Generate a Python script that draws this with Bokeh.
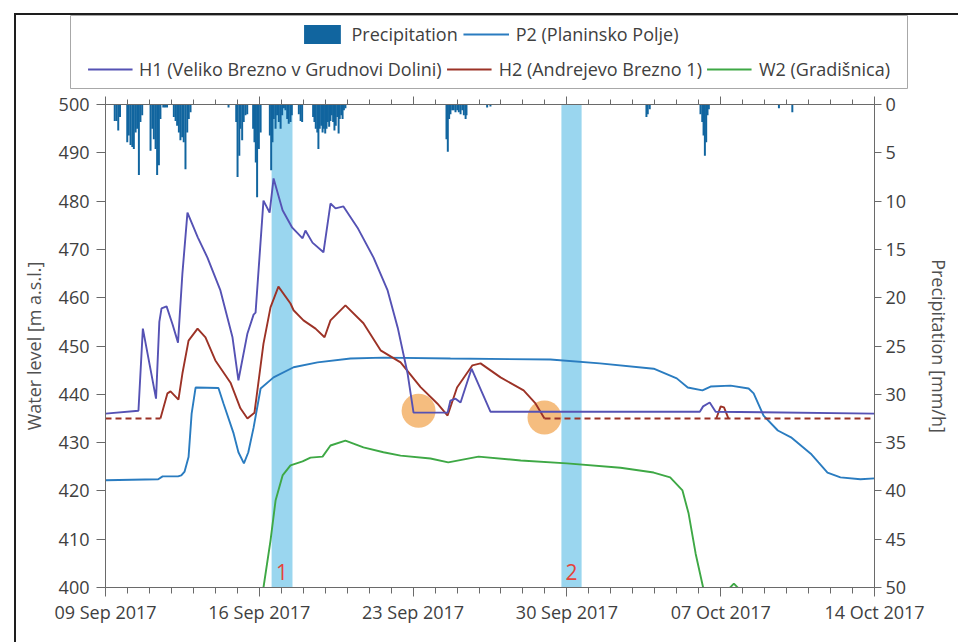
import math
import pandas as pd
from bokeh.plotting import figure
from bokeh.models import (Range1d, LinearAxis, DatetimeAxis, FixedTicker, DatetimeTickFormatter,
                          Legend, LegendItem, BoxAnnotation, Label, Div, CustomJSTickFormatter)
from bokeh.embed import file_html
from bokeh.resources import INLINE

NAN = float("nan")

# ---------------- data (days since 09 Sep 2017 00:00) ----------------
start_date = "2017-09-09"
end_date = "2017-10-14"
tick_dates = ["2017-09-09", "2017-09-16", "2017-09-23", "2017-09-30", "2017-10-07", "2017-10-14"]
level_ticks = [400, 410, 420, 430, 440, 450, 460, 470, 480, 490, 500]
precip_ticks = [0, 5, 10, 15, 20, 25, 30, 35, 40, 45, 50]

pr_day = [0.42, 0.50, 0.58, 0.66,
          0.99, 1.06, 1.14, 1.22, 1.29, 1.37, 1.44, 1.52, 1.59, 1.67,
          2.05, 2.13, 2.20, 2.28, 2.35, 2.43, 2.50, 2.63, 2.71, 2.80,
          3.11, 3.19, 3.26, 3.34, 3.41, 3.49, 3.56, 3.64, 3.72, 3.79, 3.87,
          5.60,
          5.95, 6.01, 6.09, 6.14, 6.22, 6.29, 6.37, 6.45,
          6.72, 6.78, 6.84, 6.90, 6.98, 7.06,
          7.48, 7.54, 7.60, 7.66, 7.74, 7.81, 7.89, 7.97, 8.04, 8.12, 8.19, 8.27, 8.34, 8.42, 8.48,
          8.80, 8.88, 8.95,
          9.45, 9.51, 9.57, 9.64, 9.69, 9.75, 9.82, 9.88, 9.94, 10.00, 10.06, 10.12, 10.18, 10.24,
          10.30, 10.36, 10.42, 10.48, 10.55, 10.61, 10.66, 10.73, 10.79, 10.85, 10.92,
          15.52, 15.58, 15.64, 15.70, 15.78, 15.85, 15.93, 16.01, 16.08, 16.16, 16.24, 16.31, 16.39, 16.43,
          17.37, 17.52,
          24.62, 24.68, 24.77,
          27.08, 27.16, 27.22, 27.28, 27.34, 27.40, 27.46,
          30.65, 31.26]
pr_mm = [1.7, 1.7, 2.7, 1.3,
         3.9, 3.2, 4.2, 4.4, 4.6, 2.9, 2.5, 7.3, 1.8, 1.1,
         4.8, 2.5, 3.6, 4.6, 7.3, 6.3, 1.5, 0.3, 0.3, 0.3,
         1.3, 1.7, 2.2, 2.9, 3.7, 3.4, 3.9, 6.7, 2.9, 1.5, 0.8,
         0.3,
         1.8, 7.5, 5.3, 2.5, 3.7, 1.8, 1.1, 1.0,
         2.5, 3.9, 6.0, 9.6, 4.6, 2.9,
         3.2, 6.8, 3.9, 1.5, 2.5, 1.1, 1.8, 2.5, 1.1, 0.4, 0.6, 1.5, 2.0, 1.8, 1.1,
         1.0, 1.7, 1.8,
         1.3, 1.8, 2.5, 2.9, 4.6, 2.5, 2.2, 2.9, 2.5, 3.0, 2.5, 1.8, 2.3, 1.7,
         1.1, 1.8, 2.7, 2.2, 1.3, 3.0, 1.5, 1.1, 1.5, 0.6, 0.4,
         3.6, 4.9, 1.5, 1.0, 0.6, 0.6, 0.8, 0.6, 0.8, 1.0, 0.6, 1.1, 1.5, 1.1,
         0.3, 0.2,
         1.3, 1.0, 0.5,
         1.0, 1.8, 3.2, 5.3, 3.9, 1.1, 0.5,
         0.4, 0.8]

p2_day = [0, 2.4, 2.6, 3.3, 3.45, 3.6, 3.78, 3.92, 4.1, 5.14, 5.37, 5.83, 6.05, 6.3, 6.5, 6.74,
          7.06, 7.65, 8.56, 9.65, 11.15, 12.65, 15.7, 20.25, 22.5, 24.95, 26.0, 26.5, 27.17,
          27.54, 28.45, 29.27, 29.5, 29.95, 30.6, 31.2, 32.1, 32.45, 32.86, 33.45, 34.36, 35]
p2_val = [422.2, 422.4, 423.0, 423.0, 423.2, 424.0, 427.0, 436.0, 441.4, 441.3, 438.1, 431.9,
          428.0, 425.7, 428.0, 433.1, 441.2, 443.5, 445.6, 446.6, 447.4, 447.6, 447.4, 447.2,
          446.4, 445.3, 443.3, 441.4, 440.8, 441.6, 441.8, 441.2, 440.2, 435.6, 432.5, 431.1,
          427.7, 425.9, 423.8, 422.8, 422.4, 422.6]

h1_day = [0, 1.5, 1.7, 2.3, 2.45, 2.55, 2.78, 3.05, 3.3, 3.5, 3.73, 4.2, 4.64, 5.23, 5.78, 6.05,
          6.46, 6.74, 6.83, 7.19, 7.47, 7.65, 8.06, 8.5, 8.97, 9.1, 9.42, 9.92, 10.24, 10.47,
          10.83, 11.47, 12.2, 12.84, 13.3, 13.75, 14.02, 15.57, 15.7, 15.93, 16.16, 16.66,
          17.52, 27.05, 27.2, 27.5, 27.77, 35]
h1_val = [436.0, 436.6, 453.6, 439.1, 455.0, 457.8, 458.2, 454.5, 450.7, 465.0, 477.6, 472.5,
          468.3, 461.5, 451.8, 442.9, 452.6, 456.5, 456.9, 480.1, 477.6, 484.7, 478.1, 474.5,
          472.3, 473.9, 471.4, 469.4, 479.5, 478.5, 478.9, 474.5, 468.3, 461.5, 453.8, 444.3,
          436.2, 436.2, 438.7, 439.1, 438.3, 445.3, 436.4, 436.4, 437.5, 438.3, 436.4, 436.0]

h2_day = [2.5, 2.82, 2.96, 3.32, 3.5, 3.78, 4.19, 4.55, 5.0, 5.69, 6.14, 6.46, 6.78, 7.19, 7.51,
          7.87, 8.42, 8.56, 9.01, 9.56, 9.97, 10.24, 10.92, 11.74, 12.52, 13.43, 14.34, 15.1,
          15.57, 16.0, 16.7, 17.07, 17.98, 19.03, 19.57, 19.98,
          NAN, 27.8, 28.0, 28.15, 28.35]
h2_val = [435.0, 440.2, 440.6, 438.9, 444.3, 451.1, 453.6, 451.8, 447.0, 442.4, 437.1, 435.0,
          436.2, 450.5, 458.0, 462.3, 458.8, 457.4, 455.3, 453.6, 451.8, 455.3, 458.4, 454.7,
          449.1, 446.6, 441.5, 438.1, 435.6, 441.4, 446.0, 446.4, 443.5, 440.8, 438.1, 435.0,
          NAN, 435.0, 437.5, 437.3, 435.0]
h2_base_day = [0, 2.5, NAN, 19.98, 35]
h2_base_val = [435.0, 435.0, NAN, 435.0, 435.0]

w2_day = [7.1, 7.19, 7.51, 7.74, 8.06, 8.42, 8.97, 9.33, 9.88, 10.24, 10.92, 11.74, 12.65,
          13.43, 14.79, 15.6, 16.98, 18.9, 21.0, 23.44, 24.95, 25.7, 26.26, 26.54, 26.86,
          27.2, 27.3, NAN, 28.3, 28.6, 28.9]
w2_val = [398.0, 400.0, 409.7, 418.0, 423.2, 425.3, 426.1, 426.9, 427.1, 429.4, 430.4, 429.0,
          428.0, 427.3, 426.7, 425.9, 427.1, 426.3, 425.7, 424.8, 423.8, 422.8, 420.1, 415.3,
          407.0, 400.0, 398.0, NAN, 399.4, 400.8, 399.4]

# highlighted periods (shaded bands) and their labels
band_start = [7.56, 20.75]
band_end = [8.51, 21.67]
band_label = ["1", "2"]
band_label_y = [403.2, 403.2]

# orange markers
mark_day = [14.25, 19.98]
mark_val = [436.6, 435.2]

# ---------------- helpers ----------------
DAY_MS = 86400000.0
t0 = pd.Timestamp(start_date).value / 1e6
t1 = pd.Timestamp(end_date).value / 1e6


def ms(days):
    return [t0 + d * DAY_MS if not math.isnan(d) else NAN for d in days]


major_ticks = [pd.Timestamp(d).value / 1e6 for d in tick_dates]
minor_ticks = [t0 + k * DAY_MS for k in range(int(round((t1 - t0) / DAY_MS)) + 1)]

FONT = "Open Sans"
TXT = "#404040"
AX = "#6a6a6a"
C_PR = "#11659f"
C_P2 = "#2a7cc0"
C_H1 = "#5552b4"
C_H2 = "#9c3226"
C_W2 = "#3ea845"
C_BAND = "#9ad6ef"
C_MARK = "#f3b268"
LW = 1.9

fmt = DatetimeTickFormatter(days="%d %b %Y", months="%d %b %Y", hours="%d %b %Y",
                            years="%d %b %Y")

# ---------------- legend figure (box 70..907 x 15..88) ----------------
leg = figure(width=956, height=92, x_range=Range1d(0, 1), y_range=Range1d(0, 1),
             output_backend="svg", toolbar_location=None,
             min_border_left=70, min_border_right=49, min_border_top=15, min_border_bottom=4)
leg.axis.visible = False
leg.grid.visible = False
leg.outline_line_color = "#a8a8a8"
leg.outline_line_width = 1
leg.border_fill_color = "white"

# legend-only stand-ins, kept outside the visible range of this small figure
off = dict(x=[-5], y=[-5])
g_pr = leg.vbar(x=off["x"], top=off["y"], width=1, fill_color=C_PR, line_color=None)
g_p2 = leg.line(off["x"], off["y"], line_color=C_P2, line_width=LW)
g_h1 = leg.line(off["x"], off["y"], line_color=C_H1, line_width=LW)
g_h2 = leg.line(off["x"], off["y"], line_color=C_H2, line_width=LW)
g_w2 = leg.line(off["x"], off["y"], line_color=C_W2, line_width=LW)

common = dict(orientation="horizontal", label_text_font=FONT, label_text_font_size="18px",
              label_text_color=TXT, spacing=5, label_standoff=7, padding=0,
              border_line_color=None, background_fill_alpha=0.0)
L1 = Legend(items=[LegendItem(label="Precipitation", renderers=[g_pr]),
                   LegendItem(label="P2 (Planinsko Polje)", renderers=[g_p2])],
            location="top_center", glyph_width=46, glyph_height=24, margin=7, **common)
L2 = Legend(items=[LegendItem(label="H1 (Veliko Brezno v Grudnovi Dolini)", renderers=[g_h1]),
                   LegendItem(label="H2 (Andrejevo Brezno 1)", renderers=[g_h2]),
                   LegendItem(label="W2 (Gradišnica)", renderers=[g_w2])],
            location="bottom_center", glyph_width=45, glyph_height=20, margin=7, **common)
leg.add_layout(L1)
leg.add_layout(L2)

# ---------------- main figure (frame 105..874 x 104..587) ----------------
p = figure(width=956, height=542, x_axis_type="datetime",
           x_range=Range1d(t0, t1), y_range=Range1d(400, 500),
           output_backend="svg", toolbar_location=None,
           min_border_left=105, min_border_right=82, min_border_top=12, min_border_bottom=47)
p.extra_y_ranges = {"precip": Range1d(start=50, end=0)}
p.grid.visible = False
p.outline_line_color = None
p.background_fill_color = "white"
p.border_fill_color = "white"

for s, e in zip(band_start, band_end):
    p.add_layout(BoxAnnotation(left=t0 + s * DAY_MS, right=t0 + e * DAY_MS,
                               fill_color=C_BAND, fill_alpha=1.0, line_color=None,
                               level="underlay"))

p.vbar(x=ms(pr_day), top=[0] * len(pr_mm), bottom=pr_mm, width=0.09 * DAY_MS,
       y_range_name="precip", fill_color=C_PR, line_color=None)

p.scatter(x=ms(mark_day), y=mark_val, size=34, fill_color=C_MARK, fill_alpha=0.85,
          line_color=None)

p.line(ms(p2_day), p2_val, line_color=C_P2, line_width=LW)
p.line(ms(w2_day), w2_val, line_color=C_W2, line_width=LW)
p.line(ms(h2_base_day), h2_base_val, line_color=C_H2, line_width=LW, line_dash="6 4")
p.line(ms(h2_day), h2_val, line_color=C_H2, line_width=LW)
p.line(ms(h1_day), h1_val, line_color=C_H1, line_width=LW)

for s, e, lab, ly in zip(band_start, band_end, band_label, band_label_y):
    p.add_layout(Label(x=t0 + (s + e) / 2 * DAY_MS, y=ly, text=lab, text_color="#e5433a",
                       text_font=FONT, text_font_size="21px", text_align="center",
                       text_baseline="middle"))


def style_axis(ax):
    ax.axis_line_color = AX
    ax.major_tick_line_color = AX
    ax.minor_tick_line_color = AX
    ax.major_label_text_font = FONT
    ax.major_label_text_font_size = "18px"
    ax.major_label_text_color = TXT
    ax.axis_label_text_font = FONT
    ax.axis_label_text_font_size = "18px"
    ax.axis_label_text_color = "#505050"
    ax.axis_label_text_font_style = "normal"


xa = p.xaxis[0]
xa.ticker = FixedTicker(ticks=major_ticks, minor_ticks=minor_ticks)
xa.formatter = fmt
style_axis(xa)
xa.major_tick_out = 9
xa.major_tick_in = 0
xa.minor_tick_out = 6
xa.minor_tick_in = 0
xa.major_label_standoff = 3

# top axis: ticks only (no labels)
ta = DatetimeAxis(ticker=FixedTicker(ticks=major_ticks, minor_ticks=minor_ticks),
                  formatter=CustomJSTickFormatter(code="return ''"))
style_axis(ta)
ta.major_label_standoff = 0
ta.major_tick_out = 8
ta.major_tick_in = 0
ta.minor_tick_out = 5
ta.minor_tick_in = 0
p.add_layout(ta, "above")

ya = p.yaxis[0]
ya.ticker = FixedTicker(ticks=level_ticks)
style_axis(ya)
ya.axis_label = "Water level [m a.s.l.]"
ya.major_tick_out = 9
ya.major_tick_in = 0
ya.minor_tick_out = 0
ya.major_label_standoff = 7
ya.axis_label_standoff = 10

ra = LinearAxis(y_range_name="precip", ticker=FixedTicker(ticks=precip_ticks),
                axis_label="Precipitation [mm/h]")
style_axis(ra)
ra.major_tick_out = 7
ra.major_tick_in = 0
ra.minor_tick_out = 0
ra.major_label_standoff = 4
ra.axis_label_standoff = 18
p.add_layout(ra, "right")

# thin dark frame lines (top and left) of the original figure panel
frame_lines = Div(text="", width=946, height=632,
                  styles={"position": "absolute", "left": "9px", "top": "8px",
                          "border-top": "2px solid #1e1e1e", "border-left": "2px solid #1e1e1e",
                          "pointer-events": "none", "background": "transparent"})

open("out.html", "w").write(file_html([leg, p, frame_lines], INLINE))
